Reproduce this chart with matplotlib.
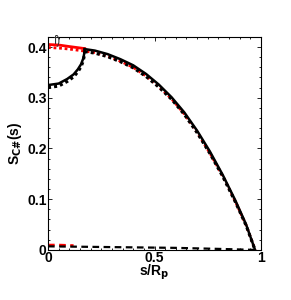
import matplotlib
matplotlib.use("Agg")
import matplotlib.pyplot as plt
from matplotlib.ticker import MultipleLocator

# outer (solid black) branch
s_outer = [0.172, 0.22, 0.28, 0.34, 0.40, 0.46, 0.52, 0.58, 0.64, 0.70, 0.76, 0.82, 0.88, 0.93, 0.972]
S_outer = [0.396, 0.393, 0.386, 0.376, 0.364, 0.347, 0.326, 0.301, 0.271, 0.235, 0.194, 0.148, 0.097, 0.050, 0.0]
# inner (solid black) branch
s_inner = [0.0, 0.05, 0.09, 0.12, 0.14, 0.155, 0.165, 0.170, 0.172]
S_inner = [0.325, 0.328, 0.337, 0.346, 0.356, 0.366, 0.377, 0.387, 0.396]
# dotted black
s_dot_in = [0.0, 0.05, 0.09, 0.12, 0.14, 0.155, 0.165, 0.170, 0.172]
S_dot_in = [0.320, 0.323, 0.332, 0.341, 0.351, 0.361, 0.372, 0.382, 0.391]
s_dot_out = [0.172, 0.22, 0.28, 0.34, 0.40, 0.46, 0.52, 0.58, 0.64, 0.70, 0.76, 0.82, 0.88, 0.93, 0.972]
S_dot_out = [0.391, 0.388, 0.381, 0.371, 0.359, 0.342, 0.321, 0.297, 0.267, 0.231, 0.190, 0.145, 0.094, 0.048, 0.0]
# red solid and red dotted
s_red = [0.0, 0.05, 0.10, 0.172]
S_red = [0.405, 0.404, 0.401, 0.397]
s_red_dot = [0.0, 0.05, 0.10, 0.172, 0.22, 0.28, 0.34, 0.40, 0.46, 0.52, 0.58, 0.64, 0.70, 0.76, 0.82, 0.88, 0.93, 0.972]
S_red_dot = [0.399, 0.398, 0.396, 0.392, 0.389, 0.382, 0.372, 0.360, 0.343, 0.322, 0.298, 0.268, 0.232, 0.191, 0.146, 0.095, 0.049, 0.0]
# dashed
s_dash = [0.0, 0.2, 0.4, 0.6, 0.8, 0.972]
S_dash = [0.007, 0.006, 0.005, 0.004, 0.002, 0.0]
s_red_dash = [0.0, 0.05, 0.12]
S_red_dash = [0.010, 0.010, 0.009]

xticks = [0, 0.5, 1]
xticklabels = ["0", "0.5", "1"]
yticks = [0, 0.1, 0.2, 0.3, 0.4]
yticklabels = ["0", "0.1", "0.2", "0.3", "0.4"]

plt.rcParams['font.family'] = ['Liberation Sans', 'DejaVu Sans']
fig = plt.figure(figsize=(2.91, 3.0), dpi=100)
ax = fig.add_axes([0.165, 0.167, 0.732, 0.71])

ax.plot(s_red_dot, S_red_dot, color='red', lw=2, ls=(0, (1, 1)))
ax.plot(s_red, S_red, color='red', lw=2)
ax.plot(s_dot_in, S_dot_in, color='black', lw=2.2, ls=(0, (1, 1)))
ax.plot(s_dot_out, S_dot_out, color='black', lw=2.2, ls=(0, (1, 1)))
ax.plot(s_inner, S_inner, color='black', lw=1.8)
ax.plot(s_outer, S_outer, color='black', lw=1.8)
ax.plot(s_red_dash, S_red_dash, color='red', lw=1.6, ls=(0, (3, 2)))
ax.plot(s_dash, S_dash, color='black', lw=1.6, ls=(0, (3, 2)))

ax.set_xlim(0, 1)
ax.set_ylim(0, 0.42)
ax.set_xticks(xticks)
ax.set_xticklabels(xticklabels, fontweight='bold', fontsize=10)
ax.set_yticks(yticks)
ax.set_yticklabels(yticklabels, fontweight='bold', fontsize=10)
ax.xaxis.set_minor_locator(MultipleLocator(0.05))
ax.yaxis.set_minor_locator(MultipleLocator(0.02))
ax.tick_params(which='both', direction='in', top=True, right=True, width=0.6)
ax.tick_params(which='major', length=3, pad=1)
ax.tick_params(which='minor', length=1.5)
for sp in ax.spines.values():
    sp.set_linewidth(0.8)

ax.set_xlabel(r"s/R$_\mathbf{p}$", fontweight='bold', fontsize=10, labelpad=-2)
ax.set_ylabel(r"S$_\mathbf{C\#}$(s)", fontweight='bold', fontsize=10, labelpad=2)
ax.text(0.045, 0.412, "f)", fontsize=8.5, color='#333333', ha='center', va='center',
        zorder=10, transform=ax.transData, clip_on=False)

fig.savefig("out.png", dpi=100)
